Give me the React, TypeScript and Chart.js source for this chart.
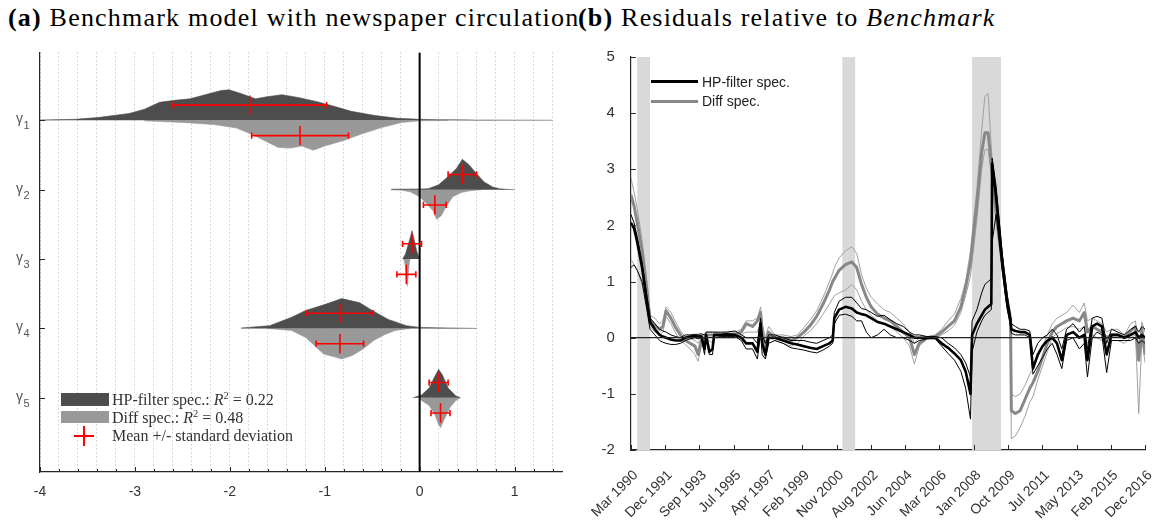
import React, { useEffect, useRef } from 'react';
import { Chart, registerables } from 'chart.js';

Chart.register(...registerables);

// ---------------- Panel (a): posterior distributions ----------------
const paramSymbol = 'γ';
const paramIndex = ['1', '2', '3', '4', '5'];
const paramRows = [1, 2, 3, 4, 5];
const xTickLabelsA = [-4, -3, -2, -1, 0, 1];

const hpX1 = [-4.0, -3.63, -3.39, -3.06, -2.9, -2.74, -2.58, -2.42, -2.26, -2.09, -2.01, -1.89, -1.73, -1.61, -1.45, -1.28, -1.08, -0.92, -0.72, -0.47, -0.23, 0, 0.2, 0.38, 0.6, 1.4];
const hpH1 = [0.005, 0.015, 0.04, 0.1, 0.16, 0.26, 0.29, 0.31, 0.37, 0.43, 0.44, 0.39, 0.31, 0.34, 0.37, 0.33, 0.27, 0.21, 0.13, 0.07, 0.03, 0.015, 0.01, 0.008, 0.004, 0.002];
const diffX1 = [-2.9, -2.5, -2.17, -1.93, -1.77, -1.61, -1.49, -1.36, -1.24, -1.12, -1.0, -0.8, -0.6, -0.39, -0.19, 0.01, 0.3];
const diffH1 = [0.007, 0.03, 0.06, 0.11, 0.2, 0.31, 0.39, 0.4, 0.37, 0.43, 0.37, 0.29, 0.19, 0.1, 0.03, 0.007, 0];

const hpX2 = [-0.3, 0, 0.09, 0.2, 0.3, 0.39, 0.45, 0.52, 0.6, 0.68, 0.77, 0.84, 0.9, 1.0];
const hpH2 = [0.007, 0.01, 0.015, 0.07, 0.19, 0.31, 0.44, 0.36, 0.23, 0.11, 0.04, 0.015, 0.007, 0];
const diffX2 = [-0.3, -0.19, -0.1, 0, 0.07, 0.14, 0.18, 0.23, 0.28, 0.35, 0.44, 0.53, 0.65];
const diffH2 = [0, 0.007, 0.03, 0.1, 0.2, 0.3, 0.43, 0.37, 0.24, 0.1, 0.04, 0.015, 0];

const hpX3 = [-0.18, -0.15, -0.12, -0.095, -0.08, -0.06, -0.03, -0.01, 0.0];
const hpH3 = [0, 0.07, 0.21, 0.33, 0.41, 0.29, 0.11, 0.04, 0];
const diffX3 = [-0.17, -0.16, -0.15, -0.14, -0.13, -0.12, -0.11, -0.1];
const diffH3 = [0, 0.04, 0.11, 0.31, 0.39, 0.24, 0.07, 0];

const hpX4 = [-1.88, -1.58, -1.35, -1.2, -1.01, -0.82, -0.63, -0.5, -0.33, -0.14, 0, 0.3, 0.6];
const hpH4 = [0.007, 0.04, 0.16, 0.26, 0.34, 0.43, 0.37, 0.26, 0.13, 0.04, 0.015, 0.007, 0];
const diffX4 = [-1.6, -1.35, -1.2, -1.09, -1.01, -0.9, -0.82, -0.71, -0.6, -0.48, -0.37, -0.26, -0.1];
const diffH4 = [0, 0.03, 0.13, 0.27, 0.37, 0.41, 0.44, 0.39, 0.3, 0.17, 0.09, 0.03, 0];

const hpX5 = [-0.07, 0.02, 0.1, 0.16, 0.2, 0.24, 0.3, 0.38, 0.43];
const hpH5 = [0, 0.04, 0.14, 0.31, 0.41, 0.33, 0.14, 0.03, 0];
const diffX5 = [0.0, 0.02, 0.1, 0.16, 0.2, 0.22, 0.26, 0.32, 0.38, 0.43];
const diffH5 = [0, 0.04, 0.11, 0.24, 0.39, 0.43, 0.31, 0.14, 0.04, 0];

const hpMean = [-1.79, 0.45, -0.08, -0.84, 0.2];
const hpStd = [0.81, 0.15, 0.1, 0.35, 0.1];
const diffMean = [-1.26, 0.16, -0.14, -0.84, 0.22];
const diffStd = [0.51, 0.12, 0.1, 0.25, 0.1];

// ---------------- Panel (b): residual time series ----------------
// months since Mar 1990
const months = [0, 2, 4, 7, 10, 12, 15, 18, 20, 22, 25, 28, 31, 34, 37, 40, 42, 44, 46, 47, 49, 51, 52, 56, 60, 65, 69, 72, 76, 79, 81, 82, 84, 86, 90, 95, 100, 104, 108, 112, 116, 120, 124, 126, 127, 130, 134, 138, 141, 144, 147, 150, 154, 158, 162, 166, 170, 174, 177, 180, 185, 190, 194, 198, 202, 206, 209, 212, 213, 216, 219, 221, 223, 225, 225.5, 228, 232, 235, 237, 237.5, 240, 243, 246, 249, 251, 254, 257, 260, 263, 266, 269, 272, 276, 280, 283, 285, 288, 291, 294, 297, 300, 304, 308, 312, 315, 317, 319, 321];
const hpMid = [2.05, 1.95, 1.7, 1.25, 0.65, 0.28, 0.15, 0.05, 0.02, 0.0, -0.03, -0.05, -0.05, 0.0, 0.02, 0.03, 0.02, 0.03, -0.2, 0.05, -0.25, -0.2, 0.05, 0.05, 0.06, 0.05, 0.0, -0.1, -0.1, -0.25, 0.25, -0.1, -0.3, 0.0, 0.0, -0.05, -0.1, -0.12, -0.15, -0.18, -0.2, -0.15, -0.1, -0.05, 0.35, 0.5, 0.55, 0.52, 0.45, 0.42, 0.4, 0.35, 0.28, 0.25, 0.2, 0.15, 0.1, 0.05, 0.0, 0.0, 0.0, 0.0, -0.1, -0.18, -0.28, -0.4, -0.6, -1.0, 0.05, 0.25, 0.4, 0.5, 0.55, 0.6, 3.1, 2.5, 1.3, 0.6, 0.3, 0.15, 0.12, 0.1, 0.1, 0.05, -0.55, -0.3, -0.15, -0.05, 0.0, -0.1, -0.4, 0.05, 0.1, 0.0, 0.05, -0.4, 0.2, 0.25, 0.2, -0.3, 0.05, 0.05, 0.0, 0.05, 0.1, 0.0, 0.05, 0.0];
const hpHigh = [2.2, 2.05, 1.8, 1.35, 0.75, 0.35, 0.25, 0.15, 0.12, 0.1, 0.05, 0.02, 0.0, 0.05, 0.05, 0.06, 0.06, 0.07, 0.05, 0.1, 0.1, 0.1, 0.1, 0.1, 0.1, 0.12, 0.05, 0.0, 0.0, -0.1, 0.35, 0.05, -0.1, 0.05, 0.05, 0.0, -0.05, -0.05, -0.05, -0.08, -0.1, -0.05, 0.0, 0.05, 0.45, 0.65, 0.72, 0.72, 0.62, 0.52, 0.5, 0.45, 0.38, 0.4, 0.32, 0.25, 0.2, 0.1, 0.05, 0.05, 0.02, 0.02, 0.0, -0.1, -0.18, -0.3, -0.45, -0.7, 0.3, 0.5, 0.8, 0.95, 1.0, 1.05, 3.2, 2.7, 1.45, 0.75, 0.4, 0.25, 0.2, 0.15, 0.15, 0.12, -0.3, -0.1, 0.0, 0.05, 0.15, 0.05, -0.2, 0.15, 0.25, 0.1, 0.2, -0.2, 0.35, 0.38, 0.35, -0.1, 0.15, 0.1, 0.05, 0.15, 0.2, 0.1, 0.2, 0.15];
const hpLow = [1.25, 1.3, 1.2, 1.0, 0.5, 0.15, 0.05, -0.05, -0.08, -0.1, -0.12, -0.12, -0.1, -0.05, -0.02, 0.0, -0.02, 0.0, -0.3, 0.0, -0.3, -0.3, 0.0, 0.02, 0.02, 0.02, -0.05, -0.2, -0.2, -0.38, 0.1, -0.3, -0.38, -0.1, -0.05, -0.1, -0.18, -0.2, -0.22, -0.25, -0.27, -0.22, -0.15, -0.1, 0.25, 0.4, 0.42, 0.38, 0.3, 0.3, 0.1, 0.0, 0.05, 0.15, 0.05, 0.0, 0.0, -0.05, -0.1, -0.05, -0.02, -0.02, -0.15, -0.28, -0.4, -0.6, -0.9, -1.45, -0.25, 0.1, 0.3, 0.4, 0.45, 0.5, 1.7, 2.2, 1.15, 0.5, 0.2, 0.08, 0.05, 0.05, 0.05, 0.0, -0.65, -0.5, -0.35, -0.2, -0.1, -0.3, -0.55, -0.05, 0.0, -0.2, -0.1, -0.7, 0.0, 0.1, 0.05, -0.62, -0.05, -0.05, -0.05, -0.05, 0.0, -0.1, -0.05, -0.1];
const diffMid = [2.55, 2.35, 2.05, 1.55, 0.85, 0.32, 0.22, 0.15, 0.2, 0.48, 0.35, 0.18, 0.05, -0.05, -0.1, -0.15, -0.3, -0.05, 0.0, 0.05, 0.05, 0.05, 0.05, 0.05, 0.05, 0.06, 0.1, 0.25, 0.2, 0.3, 0.45, 0.1, -0.2, 0.1, 0.0, 0.0, -0.05, 0.0, 0.1, 0.22, 0.38, 0.6, 0.85, 1.0, 1.05, 1.2, 1.3, 1.35, 1.25, 0.95, 0.72, 0.55, 0.42, 0.35, 0.3, 0.2, 0.1, 0.0, -0.3, -0.1, 0.0, 0.02, 0.1, 0.2, 0.3, 0.55, 0.9, 1.35, 1.6, 2.4, 3.3, 3.65, 3.65, 3.1, 2.95, 2.25, 1.3, 0.6, 0.35, -1.3, -1.35, -1.3, -1.1, -0.9, -0.8, -0.6, -0.35, -0.1, 0.1, 0.2, 0.25, 0.3, 0.35, 0.3, 0.45, 0.1, 0.2, 0.15, 0.1, 0.0, 0.05, 0.05, 0.0, 0.12, 0.2, -0.4, 0.15, -0.3];
const diffHigh = [2.85, 2.6, 2.3, 1.75, 1.0, 0.4, 0.35, 0.25, 0.3, 0.55, 0.45, 0.28, 0.12, 0.02, -0.02, -0.05, -0.1, 0.0, 0.05, 0.1, 0.1, 0.1, 0.1, 0.08, 0.1, 0.1, 0.15, 0.3, 0.3, 0.35, 0.55, 0.25, 0.0, 0.2, 0.05, 0.05, 0.02, 0.05, 0.18, 0.32, 0.48, 0.72, 1.0, 1.15, 1.25, 1.42, 1.55, 1.62, 1.5, 1.12, 0.88, 0.72, 0.6, 0.5, 0.45, 0.35, 0.25, 0.1, -0.1, 0.0, 0.02, 0.05, 0.15, 0.3, 0.42, 0.7, 1.0, 1.55, 1.85, 2.65, 3.7, 4.3, 4.35, 3.4, 3.2, 2.45, 1.45, 0.75, 0.45, -1.0, -1.05, -1.0, -0.85, -0.65, -0.55, -0.35, -0.15, 0.05, 0.25, 0.35, 0.4, 0.45, 0.58, 0.45, 0.62, 0.3, 0.35, 0.3, 0.25, 0.1, 0.15, 0.15, 0.05, 0.25, 0.3, -0.2, 0.28, 0.1];
const diffLow = [1.4, 1.3, 1.2, 0.95, 0.55, 0.2, 0.1, 0.05, 0.1, 0.38, 0.25, 0.08, -0.05, -0.12, -0.2, -0.3, -0.42, -0.15, -0.15, 0.0, -0.05, -0.1, 0.0, 0.0, 0.0, 0.0, 0.05, 0.1, 0.1, 0.1, 0.3, -0.1, -0.35, 0.0, -0.05, -0.1, -0.15, -0.1, 0.03, 0.12, 0.25, 0.42, 0.6, 0.7, 0.75, 0.8, 0.85, 0.95, 0.85, 0.65, 0.5, 0.4, 0.3, 0.25, 0.2, 0.1, 0.0, -0.15, -0.47, -0.15, -0.02, 0.0, 0.05, 0.12, 0.22, 0.45, 0.75, 1.1, 1.35, 2.1, 3.0, 3.35, 3.35, 2.9, 2.75, 2.05, 1.15, 0.5, 0.25, -1.8, -1.75, -1.6, -1.4, -1.15, -1.05, -0.75, -0.5, -0.25, 0.0, 0.08, 0.12, 0.18, 0.2, 0.15, 0.2, -0.1, 0.05, 0.0, -0.05, -0.2, -0.05, -0.05, -0.1, 0.0, 0.05, -1.35, 0.0, -0.45];

const recessionStart = [4, 132, 213];
const recessionEnd = [12, 140, 231];

const dateTickMonths = [0, 21.4, 42.8, 64.2, 85.6, 107, 128.4, 149.8, 171.2, 192.6, 214, 235.4, 256.8, 278.2, 299.6, 321];
const dateTickLabels = ['Mar 1990', 'Dec 1991', 'Sep 1993', 'Jul 1995', 'Apr 1997', 'Feb 1999', 'Nov 2000', 'Aug 2002', 'Jun 2004', 'Mar 2006', 'Jan 2008', 'Oct 2009', 'Jul 2011', 'May 2013', 'Feb 2015', 'Dec 2016'];
const yTicksB = [-2, -1, 0, 1, 2, 3, 4, 5];

// ---------------- helpers ----------------
const DARK = '#4d4d4d';
const LIGHT = '#999999';
const AXIS = '#262626';
const SANS = '"Liberation Sans", Arial, Helvetica, sans-serif';
const SERIF = '"Liberation Serif", "Times New Roman", serif';

const inwardTicks = {
  id: 'inwardTicks',
  afterDatasetsDraw(chart: any, _a: any, opts: any) {
    const { ctx, chartArea } = chart;
    const xs = chart.scales.x;
    const ys = chart.scales.y;
    ctx.save();
    ctx.strokeStyle = AXIS;
    ctx.lineWidth = 1;
    ctx.beginPath();
    (opts.xMajor || []).forEach((v: number) => {
      const p = Math.round(xs.getPixelForValue(v)) + 0.5;
      ctx.moveTo(p, chartArea.bottom);
      ctx.lineTo(p, chartArea.bottom - 5);
    });
    (opts.xMinor || []).forEach((v: number) => {
      const p = Math.round(xs.getPixelForValue(v)) + 0.5;
      ctx.moveTo(p, chartArea.bottom);
      ctx.lineTo(p, chartArea.bottom - 3);
    });
    (opts.yMajor || []).forEach((v: number) => {
      const p = Math.round(ys.getPixelForValue(v)) + 0.5;
      ctx.moveTo(chartArea.left, p);
      ctx.lineTo(chartArea.left + 5, p);
    });
    ctx.stroke();
    ctx.restore();
  },
};

const gammaLabels = {
  id: 'gammaLabels',
  afterDraw(chart: any) {
    const { ctx } = chart;
    const ys = chart.scales.y;
    ctx.save();
    ctx.fillStyle = '#555';
    ctx.textBaseline = 'alphabetic';
    paramRows.forEach((k, i) => {
      const p = ys.getPixelForValue(k);
      ctx.font = `14px ${SANS}`;
      ctx.textAlign = 'right';
      ctx.fillText(paramSymbol, 23, p + 3);
      ctx.font = `11px ${SANS}`;
      ctx.textAlign = 'left';
      ctx.fillText(paramIndex[i], 23.5, p + 9);
    });
    ctx.restore();
  },
};

const crossesPlugin = {
  id: 'crosses',
  afterDatasetsDraw(chart: any) {
    const { ctx } = chart;
    const xs = chart.scales.x;
    const ys = chart.scales.y;
    const arm = 0.14;
    const cap = 0.045;
    const off = 0.22;
    ctx.save();
    ctx.strokeStyle = '#ff0000';
    ctx.lineWidth = 1.6;
    const draw = (m: number, s: number, yv: number) => {
      const xl = xs.getPixelForValue(m - s);
      const xr = xs.getPixelForValue(m + s);
      const xc = xs.getPixelForValue(m);
      const yc = ys.getPixelForValue(yv);
      ctx.beginPath();
      ctx.moveTo(xl, yc);
      ctx.lineTo(xr, yc);
      ctx.moveTo(xc, ys.getPixelForValue(yv - arm));
      ctx.lineTo(xc, ys.getPixelForValue(yv + arm));
      ctx.moveTo(xl, ys.getPixelForValue(yv - cap));
      ctx.lineTo(xl, ys.getPixelForValue(yv + cap));
      ctx.moveTo(xr, ys.getPixelForValue(yv - cap));
      ctx.lineTo(xr, ys.getPixelForValue(yv + cap));
      ctx.stroke();
    };
    paramRows.forEach((k, i) => {
      draw(hpMean[i], hpStd[i], k - off);
      draw(diffMean[i], diffStd[i], k + off);
    });
    ctx.restore();
  },
};

const recessionPlugin = {
  id: 'recessions',
  beforeDatasetsDraw(chart: any) {
    const { ctx, chartArea } = chart;
    const xs = chart.scales.x;
    ctx.save();
    ctx.fillStyle = '#d9d9d9';
    recessionStart.forEach((s, i) => {
      const x1 = xs.getPixelForValue(s);
      const x2 = xs.getPixelForValue(recessionEnd[i]);
      ctx.fillRect(x1, chartArea.top, x2 - x1, chartArea.bottom - chartArea.top);
    });
    ctx.restore();
  },
};

function densityDataset(xsArr: number[], hs: number[], row: number, sign: number, color: string) {
  return {
    data: xsArr.map((x, i) => ({ x, y: row + sign * hs[i] })),
    borderColor: color,
    borderWidth: 0.6,
    backgroundColor: color,
    pointRadius: 0,
    tension: 0,
    fill: { value: row },
    order: 5,
  };
}

function PanelA() {
  const ref = useRef<HTMLCanvasElement>(null);
  useEffect(() => {
    const hpX = [hpX1, hpX2, hpX3, hpX4, hpX5];
    const hpH = [hpH1, hpH2, hpH3, hpH4, hpH5];
    const dfX = [diffX1, diffX2, diffX3, diffX4, diffX5];
    const dfH = [diffH1, diffH2, diffH3, diffH4, diffH5];
    const datasets: any[] = [];
    paramRows.forEach((k, i) => {
      datasets.push(densityDataset(hpX[i], hpH[i], k, -1, DARK));
      datasets.push(densityDataset(dfX[i], dfH[i], k, 1, LIGHT));
    });
    datasets.push({
      data: [{ x: 0, y: 0.02 }, { x: 0, y: 6.07 }],
      borderColor: '#000',
      borderWidth: 2,
      pointRadius: 0,
      fill: false,
      order: 1,
    });
    const minorGrid: number[] = [];
    for (let i = -20; i <= 7; i++) minorGrid.push(i / 5);
    const chart = new Chart(ref.current!, {
      type: 'line',
      data: { datasets },
      options: {
        animation: false,
        responsive: false,
        events: [],
        layout: { padding: { top: 10, right: 18, left: 0, bottom: 0 } },
        plugins: {
          legend: { display: false },
          tooltip: { enabled: false },
          inwardTicks: { xMajor: xTickLabelsA, xMinor: minorGrid, yMajor: paramRows },
        } as any,
        scales: {
          x: {
            type: 'linear',
            min: -4,
            max: 1.5,
            afterBuildTicks: (s: any) => {
              s.ticks = minorGrid.map((v) => ({ value: v }));
            },
            afterFit: (s: any) => {
              s.height = 49;
            },
            ticks: {
              autoSkip: false,
              maxRotation: 0,
              padding: 12,
              color: '#333',
              font: { family: SANS, size: 14 },
              callback: (v: any) => {
                const r = Math.round(v);
                return Math.abs(v - r) < 1e-6 && xTickLabelsA.includes(r) ? String(r) : '';
              },
            },
            grid: { color: '#b4b4b4', lineWidth: 1, drawTicks: false },
            border: { display: true, color: AXIS, width: 1.2, dash: [1, 3] },
          },
          y: {
            type: 'linear',
            min: 0.02,
            max: 6.07,
            reverse: true,
            afterBuildTicks: (s: any) => {
              s.ticks = paramRows.map((v) => ({ value: v }));
            },
            afterFit: (s: any) => {
              s.width = 40;
            },
            ticks: {
              padding: 4,
              font: { family: SANS, size: 14 },
              callback: () => '',
            },
            grid: { display: false },
            border: { display: true, color: AXIS, width: 1.2 },
          },
        },
      },
      plugins: [inwardTicks, crossesPlugin, gammaLabels],
    } as any);
    return () => chart.destroy();
  }, []);
  return (
    <canvas
      ref={ref}
      width={580}
      height={481}
      style={{ position: 'absolute', left: 0, top: 40, width: 580, height: 481 }}
    />
  );
}

function line(data: number[], color: string, width: number, order: number) {
  return {
    data: months.map((m, i) => ({ x: m, y: data[i] })),
    borderColor: color,
    borderWidth: width,
    pointRadius: 0,
    tension: 0,
    fill: false,
    order,
    borderJoinStyle: 'round',
  };
}

function PanelB() {
  const ref = useRef<HTMLCanvasElement>(null);
  useEffect(() => {
    const datasets: any[] = [
      line(hpMid, '#000000', 2.6, 1),
      line(hpHigh, '#000000', 1, 2),
      line(hpLow, '#000000', 1, 2),
      line(diffMid, '#888888', 3, 3),
      line(diffHigh, '#a0a0a0', 1, 4),
      line(diffLow, '#a0a0a0', 1, 4),
      {
        data: [{ x: 0, y: 0 }, { x: 321, y: 0 }],
        borderColor: '#222',
        borderWidth: 1.3,
        pointRadius: 0,
        fill: false,
        order: 0,
      },
    ];
    const chart = new Chart(ref.current!, {
      type: 'line',
      data: { datasets },
      options: {
        animation: false,
        responsive: false,
        events: [],
        layout: { padding: { top: 15, right: 16, left: 0, bottom: 0 } },
        plugins: {
          legend: { display: false },
          tooltip: { enabled: false },
          inwardTicks: { xMajor: dateTickMonths, yMajor: yTicksB },
        } as any,
        scales: {
          x: {
            type: 'linear',
            min: 0,
            max: 321,
            afterBuildTicks: (s: any) => {
              s.ticks = dateTickMonths.map((v) => ({ value: v }));
            },
            afterFit: (s: any) => {
              s.height = 71;
            },
            ticks: {
              autoSkip: false,
              minRotation: 45,
              maxRotation: 45,
              padding: 9,
              labelOffset: 5,
              color: '#333',
              font: { family: SANS, size: 14 },
              callback: (_v: any, i: number) => dateTickLabels[i],
            },
            grid: { display: false },
            border: { display: true, color: AXIS, width: 1.2 },
          },
          y: {
            type: 'linear',
            min: -2,
            max: 5,
            afterBuildTicks: (s: any) => {
              s.ticks = yTicksB.map((v) => ({ value: v }));
            },
            afterFit: (s: any) => {
              s.width = 50;
            },
            ticks: {
              padding: 8,
              color: '#333',
              font: { family: SANS, size: 15 },
              callback: (v: any) => String(v),
            },
            grid: { display: false },
            border: { display: true, color: AXIS, width: 1.2 },
          },
        },
      },
      plugins: [recessionPlugin, inwardTicks],
    } as any);
    return () => chart.destroy();
  }, []);
  return (
    <canvas
      ref={ref}
      width={586}
      height={481}
      style={{ position: 'absolute', left: 580, top: 40, width: 586, height: 481 }}
    />
  );
}

export default function App() {
  const title: React.CSSProperties = {
    position: 'absolute',
    top: 5,
    fontFamily: SERIF,
    fontSize: 26,
    letterSpacing: '1.2px',
    lineHeight: '26px',
    whiteSpace: 'nowrap',
    color: '#000',
  };
  const legA: React.CSSProperties = {
    position: 'absolute',
    left: 112,
    fontFamily: SERIF,
    fontSize: 16,
    lineHeight: '16px',
    whiteSpace: 'nowrap',
    color: '#333',
  };
  const legB: React.CSSProperties = {
    position: 'absolute',
    left: 702,
    fontFamily: SANS,
    fontSize: 14,
    lineHeight: '14px',
    whiteSpace: 'nowrap',
    color: '#222',
  };
  const sup: React.CSSProperties = { fontSize: '0.65em', verticalAlign: 'super', lineHeight: 0 };
  return (
    <div style={{ position: 'absolute', left: 0, top: 0, width: 1166, height: 521, background: '#fff', overflow: 'hidden' }}>
      <div style={{ ...title, left: 8 }}>
        <b>(a)</b> Benchmark model with newspaper circulation
      </div>
      <div style={{ ...title, left: 578 }}>
        <b>(b)</b> Residuals relative to <i>Benchmark</i>
      </div>
      <PanelA />
      <PanelB />
      {/* legend panel (a) */}
      <div style={{ position: 'absolute', left: 61, top: 393, width: 48, height: 13, background: DARK }} />
      <div style={{ position: 'absolute', left: 61, top: 411, width: 48, height: 12, background: LIGHT }} />
      <div style={{ position: 'absolute', left: 74, top: 435, width: 20, height: 2, background: '#ff0000' }} />
      <div style={{ position: 'absolute', left: 83, top: 426, width: 2, height: 20, background: '#ff0000' }} />
      <div style={{ ...legA, top: 392 }}>
        HP-filter spec.: <i>R</i>
        <span style={sup}>2</span> = 0.22
      </div>
      <div style={{ ...legA, top: 410 }}>
        Diff spec.: <i>R</i>
        <span style={sup}>2</span> = 0.48
      </div>
      <div style={{ ...legA, top: 428 }}>Mean +/- standard deviation</div>
      {/* legend panel (b) */}
      <div style={{ position: 'absolute', left: 651, top: 80, width: 47, height: 3, background: '#000' }} />
      <div style={{ position: 'absolute', left: 651, top: 100, width: 47, height: 3, background: '#888' }} />
      <div style={{ ...legB, top: 75 }}>HP-filter spec.</div>
      <div style={{ ...legB, top: 94 }}>Diff spec.</div>
    </div>
  );
}
